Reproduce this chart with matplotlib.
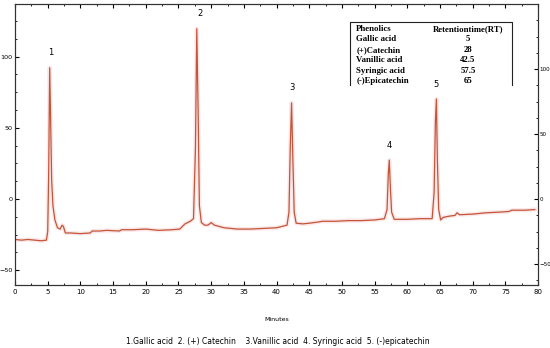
import matplotlib
matplotlib.use('Agg')
import matplotlib.pyplot as plt
from matplotlib.ticker import MultipleLocator, FixedLocator

# chromatogram trace (minutes, detector signal)
minutes = [0, 1, 2, 3, 4, 4.8, 5.0, 5.15, 5.3, 5.45, 5.6, 5.8, 6.1, 6.5, 6.9, 7.2, 7.4, 7.7,
           8.5, 10, 11.5, 11.8, 13, 14, 16, 16.3, 18, 20, 22, 24, 25.2, 26, 26.8, 27.3,
           27.6, 27.8, 28.0, 28.2, 28.5, 29, 29.5, 30.0, 30.5, 32, 34, 36, 38, 40, 41.6,
           41.9, 42.1, 42.3, 42.5, 42.7, 43, 44, 45, 46.5, 47, 49, 51, 53, 55, 56.5,
           56.9, 57.1, 57.25, 57.4, 57.6, 58, 60, 62, 63.8, 64.1, 64.3, 64.45, 64.6,
           64.8, 65.1, 65.5, 66.5, 67.3, 67.6, 68, 70, 72, 74, 75.5, 76, 78, 79.5]
signal = [-31, -31.5, -31, -31.5, -32, -31.5, -25, 20, 101, 60, 15, -5, -16, -22, -23, -20, -21, -26,
          -26, -26.5, -26, -24.5, -24.5, -24, -24.5, -23.5, -23.5, -23, -24, -23.5, -23, -19, -17, -15,
          40, 131, 70, -5, -18, -20, -20, -18, -20, -22, -23, -23, -22.5, -22, -20,
          -10, 40, 74, 30, -10, -18.5, -19, -18.5, -17.5, -17, -17, -16.5, -16.5, -16, -15,
          -8, 20, 30, 10, -10, -15.5, -15.5, -15, -15, 5, 60, 77, 30,
          -8, -16, -14, -13, -12.5, -10.5, -12, -11.5, -10.5, -10, -9.5, -8.5, -8.5, -8]

peak_minutes = [5.5, 28.3, 42.3, 57.25, 64.4]
peak_tops = [101, 131, 74, 30, 77]
peak_labels = ['1', '2', '3', '4', '5']

y_ticks = [-50, 0, 50, 100]

table_rows = [('Phenolics', 'Retentiontime(RT)'),
              ('Gallic acid', '5'),
              ('(+)Catechin', '28'),
              ('Vanillic acid', '42.5'),
              ('Syringic acid', '57.5'),
              ('(-)Epicatechin', '65')]

caption = '1.Gallic acid  2. (+) Catechin    3.Vanillic acid  4. Syringic acid  5. (-)epicatechin'

narrow = ['Liberation Sans Narrow', 'DejaVu Sans']

fig = plt.figure(figsize=(5.5, 3.48), dpi=100)
ax = fig.add_axes([0.0273, 0.181, 0.951, 0.8075])
axl = ax.twinx()

ax.plot(minutes, signal, color='#f2a0a0', lw=3.0, alpha=0.25, zorder=1)
ax.plot(minutes, signal, color='#c2553a', lw=0.9)

for xm, top, lab in zip(peak_minutes, peak_tops, peak_labels):
    ax.text(xm, top + 8, lab, ha='center', va='bottom', fontsize=6, family=narrow)

ax.set_xlim(0, 80)
ax.set_ylim(-66, 150)
ax.xaxis.set_major_locator(MultipleLocator(5))
ax.xaxis.set_minor_locator(MultipleLocator(2.5))
ax.tick_params(axis='x', which='both', direction='in', top=True, labelsize=5, pad=3, length=3)
ax.tick_params(axis='x', which='minor', length=1.5)
for lbl in ax.get_xticklabels():
    lbl.set_family(narrow)

# right scale (data scale)
ax.yaxis.tick_right()
ax.yaxis.set_major_locator(FixedLocator(y_ticks))
ax.yaxis.set_minor_locator(MultipleLocator(12.5))
ax.tick_params(axis='y', which='both', direction='in', labelsize=4.1, pad=1, length=3)
ax.tick_params(axis='y', which='minor', length=1.5)
for lbl in ax.get_yticklabels():
    lbl.set_family(narrow)

# left scale
axl.yaxis.tick_left()
axl.set_ylim(-60.5, 137)
axl.yaxis.set_major_locator(FixedLocator(y_ticks))
axl.yaxis.set_minor_locator(MultipleLocator(12.5))
axl.tick_params(axis='y', which='both', direction='in', labelsize=4.6, pad=2, length=3)
axl.tick_params(axis='y', which='minor', length=1.5)
for lbl in axl.get_yticklabels():
    lbl.set_family(narrow)

for a in (ax, axl):
    for s in a.spines.values():
        s.set_linewidth(0.8)
        s.set_color('#333333')

ax.set_xlabel('Minutes', fontsize=4.5, family=narrow, labelpad=16)

# retention time table
x0, x1, y0, y1 = 0.6405, 0.950, 0.712, 0.936
ax.plot([x0, x0, x1, x1], [y0, y1, y1, y0], transform=ax.transAxes, color='#222222', lw=0.8)
for i, (name, rt) in enumerate(table_rows):
    yy = 0.911 - i * 0.037
    ax.text(x0 + 0.012, yy, name, transform=ax.transAxes, fontsize=6.3, fontweight='bold',
            family='Liberation Serif', va='center', ha='left')
    ax.text(0.866, yy, rt, transform=ax.transAxes, fontsize=6.3, fontweight='bold',
            family='Liberation Serif', va='center', ha='center')

fig.text(0.506, 0.02, caption, fontsize=5.5, family=narrow, ha='center', va='center')

fig.savefig('out.png', dpi=100)
